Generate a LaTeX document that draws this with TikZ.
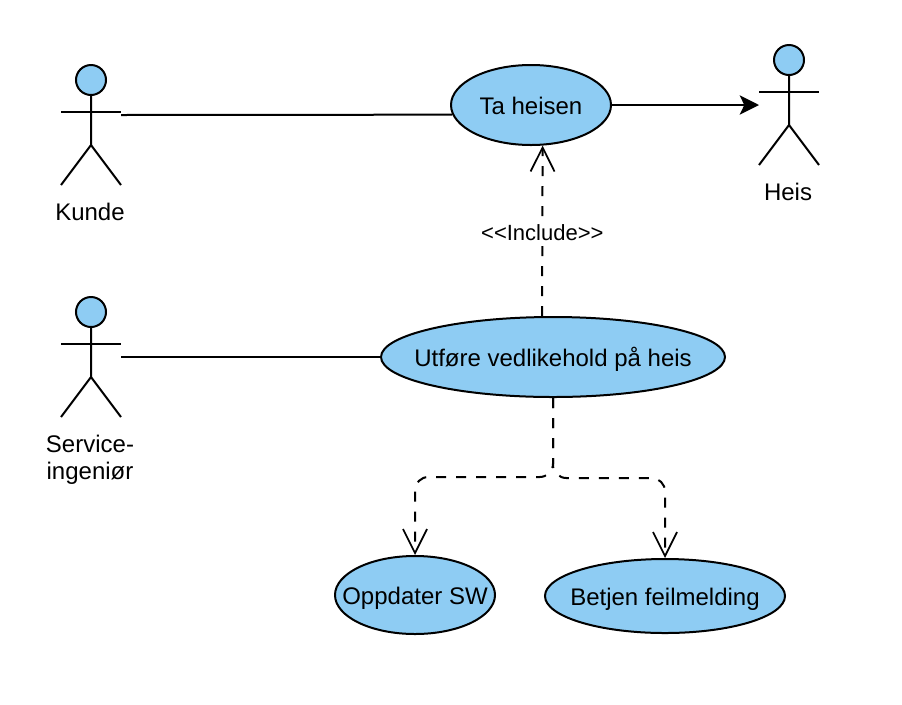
\documentclass[tikz,border=0pt]{standalone}
\usepackage{fontspec}
\setmainfont{Liberation Sans}
\usetikzlibrary{arrows.meta, shapes.geometric}
\definecolor{himmel}{HTML}{8ECCF3}

\begin{document}
\begin{tikzpicture}[x=0.75pt, y=-0.75pt,
      usecase/.style={ellipse, draw=black, line width=1.5pt, fill=himmel, inner xsep=-60pt, inner ysep=-20pt,
        text=black, align=center, font=\fontsize{18}{20}\selectfont, text height=15pt, text depth=1pt},
      tekst/.style={text=black, align=center, font=\fontsize{18}{20}\selectfont},
      linje/.style={black, line width=1.5pt},
      pil/.style={-{Stealth[length=14.5pt, width=14.5pt, inset=3.5pt]}, black, line width=1.5pt},
      avh/.style={-{Straight Barb[length=18pt, width=18pt, line width=1.3pt]}, black,
        line width=1.5pt, dash pattern=on 7.5pt off 7.5pt},
      hode/.style={circle, draw=black, line width=1.5pt, fill=himmel, inner sep=0pt, minimum size=22.5pt},
      actor/.pic={
        \draw[linje] (0,15) -- (0,65) -- (-30,105);
        \draw[linje] (0,65) -- (30,105);
        \draw[linje] (-30,32) -- (30,32);
      }]
    \useasboundingbox (0,0) rectangle (902,704);

    % aktorer
    \pic at (91,80) {actor};
    \node[hode] (kundehode) at (91,80) {};
    \node[tekst] (kunde) at (90,212) {Kunde};
    \pic at (789,60) {actor};
    \node[hode] (heishode) at (789,60) {};
    \node[tekst] (heis) at (788,192) {Heis};
    \pic at (91,312) {actor};
    \node[hode] (servicehode) at (91,312) {};
    \node[tekst] (service) at (90,460) {Service-\\ingeniør};

    % bruksmønstre
    \node[usecase, minimum width=120pt, minimum height=60pt] (ta) at (531,105) {Ta heisen};
    \node[usecase, minimum width=258pt, minimum height=60pt, inner xsep=-120pt] (utfore) at (553,357) {Utføre vedlikehold på heis};
    \node[usecase, minimum width=120pt, minimum height=58.5pt] (oppdater) at (415,595) {Oppdater SW};
    \node[usecase, minimum width=180pt, minimum height=55.5pt] (betjen) at (665,596) {Betjen feilmelding};

    \coordinate (kundehand) at (121,115);
    \coordinate (servicehand) at (121,357);
    \coordinate (heishand) at (759,105);
    \coordinate (delV) at (553,477);
    \coordinate (delH) at (553,478);
    \coordinate (kneV) at (415,477);
    \coordinate (kneH) at (665,478);

    \draw[linje] (kundehand) -- (ta.187.4);
    \draw[linje] (servicehand) -- (utfore.west);
    \draw[pil] (ta.east) -- (heishand);
    \draw[avh] (utfore.105.4) -- node[midway, fill=white, inner sep=0.5pt, text=black, yshift=-1pt,
      font=\fontsize{16.5}{18}\selectfont] (include) {<{}<Include>{}>} (ta.-74.5);
    \draw[avh, rounded corners=10pt] (utfore.south) -- (delV) -- (kneV) -- (oppdater.north);
    \draw[avh, rounded corners=10pt] (utfore.south) -- (delH) -- (kneH) -- (betjen.north);
  \end{tikzpicture}
\end{document}
